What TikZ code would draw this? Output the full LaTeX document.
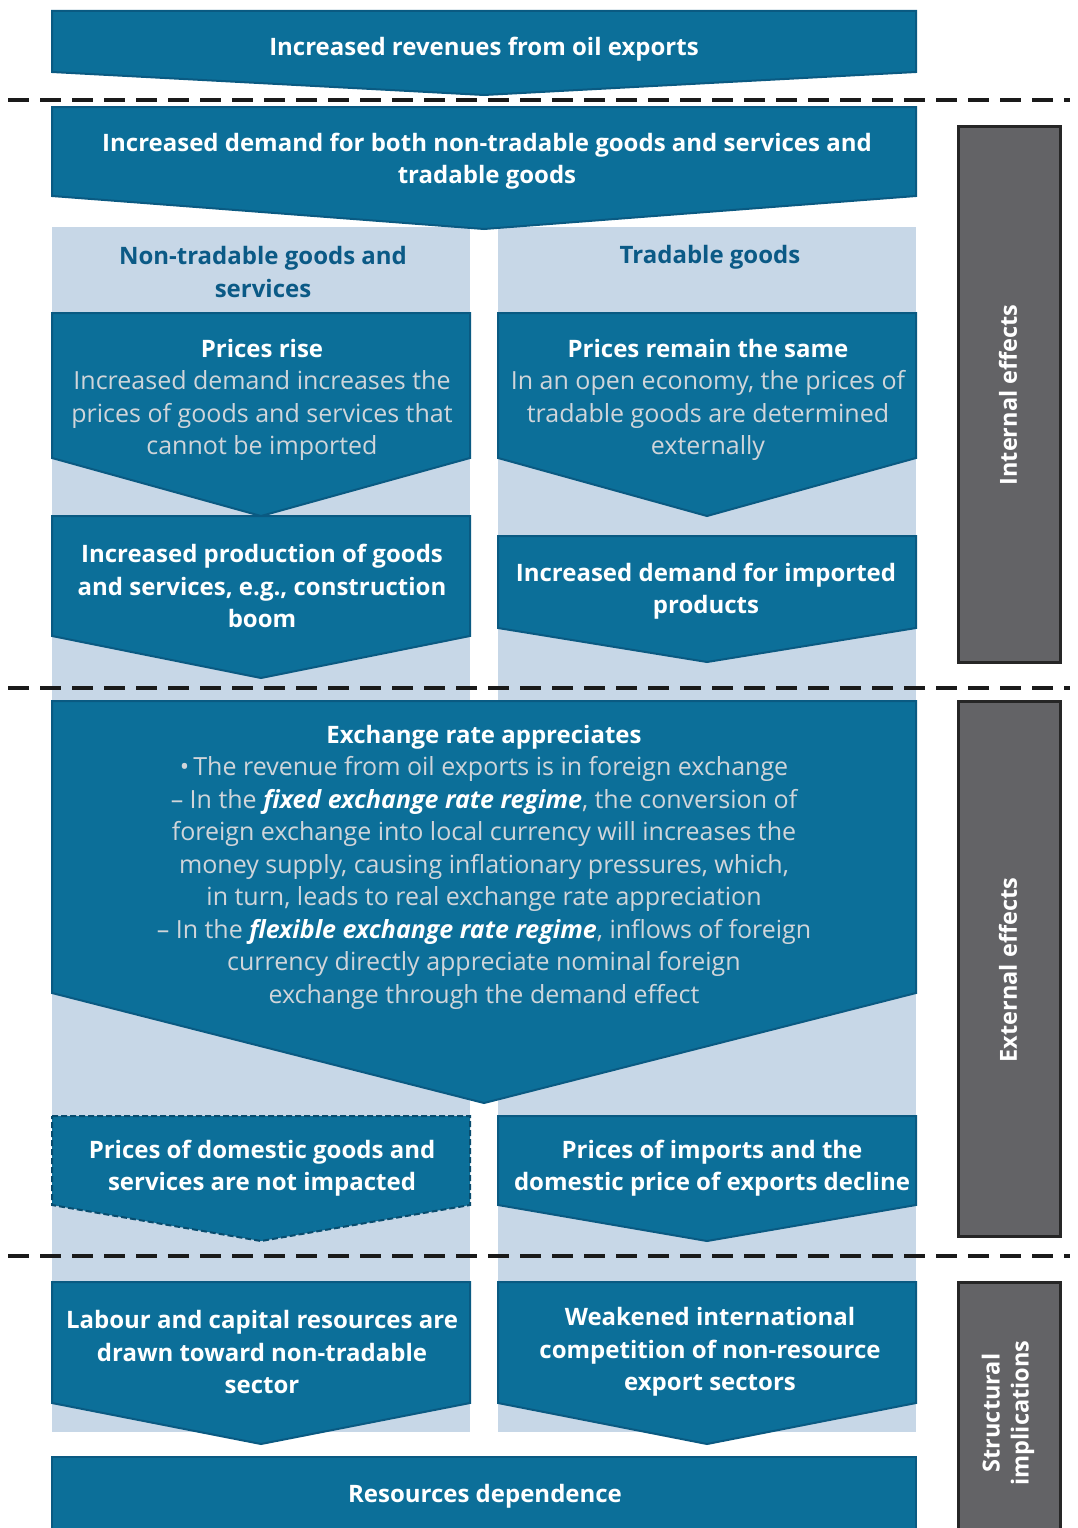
\documentclass[tikz,border=0pt]{standalone}
\usepackage{fontspec}
\setmainfont{Open Sans}
\definecolor{boxblue}{HTML}{0C6F99}
\definecolor{boxedge}{HTML}{0A5A82}
\definecolor{paleblue}{HTML}{C7D7E7}
\definecolor{bodygray}{HTML}{D0D5DA}
\definecolor{headblue}{HTML}{0B5A86}
\definecolor{sidegray}{HTML}{636366}
\definecolor{sideedge}{HTML}{262626}
\definecolor{dashblack}{HTML}{1A1A1A}
\tikzset{
  chevron/.style={fill=boxblue, draw=boxedge, line width=2pt, line join=miter},
  sepline/.style={draw=dashblack, line width=4pt, dash pattern=on 21pt off 11pt},
  lbl/.style={text=white, font=\fontsize{24}{32.5}\selectfont\bfseries, align=center, inner sep=0pt},
  body/.style={text=bodygray, font=\fontsize{25}{32.5}\selectfont, align=center, inner sep=0pt},
  head/.style={text=headblue, font=\fontsize{24}{32.5}\selectfont\bfseries, align=center, inner sep=0pt},
  sidebox/.style={fill=sidegray, draw=sideedge, line width=3pt},
  sidelbl/.style={text=white, font=\fontsize{23.5}{29}\selectfont\bfseries, align=center, inner sep=0pt, rotate=90},
}
\newcommand\chevshape[6][]{%
  \path[chevron,#1] (#2,#4) -- (#3,#4) -- (#3,#5) -- ({(#2+#3)/2},#6) -- (#2,#5) -- cycle;}
\begin{document}
\begin{tikzpicture}[x=1pt,y=-1pt]
\useasboundingbox (0,0) rectangle (1078,1528);
\clip (0,0) rectangle (1078,1528);
\fill[white] (0,0) rectangle (1078,1528);
% pale columns
\fill[paleblue] (52,227) rectangle (470,1432);
\fill[paleblue] (498,227) rectangle (916,1432);
% chevrons
\chevshape{52}{916}{11}{72}{95}
\chevshape{52}{916}{107}{196}{229}
\chevshape{52}{470}{313}{458}{516}
\chevshape{498}{916}{313}{458}{516}
\chevshape{52}{470}{516}{636}{678}
\chevshape{498}{916}{536}{628}{662}
\chevshape{52}{916}{701}{993}{1103}
\chevshape[dash pattern=on 6pt off 3pt, draw=boxedge!85!black]{52}{470}{1116}{1205}{1241}
\chevshape{498}{916}{1116}{1205}{1241}
\chevshape{52}{470}{1282}{1403}{1444}
\chevshape{498}{916}{1282}{1403}{1444}
\path[chevron] (52,1457) rectangle (916,1540);
% side boxes
\path[sidebox] (958,126) rectangle (1060,662);
\path[sidebox] (958,701) rectangle (1060,1236);
\path[sidebox] (958,1282) rectangle (1060,1540);
% separators
\coordinate (s1a) at (8,100); \coordinate (s1b) at (1070,100);
\coordinate (s2a) at (8,688); \coordinate (s2b) at (1070,688);
\coordinate (s3a) at (8,1256); \coordinate (s3b) at (1070,1256);
\draw[sepline] (s1a) -- (s1b);
\draw[sepline] (s2a) -- (s2b);
\draw[sepline] (s3a) -- (s3b);
% texts
\node[lbl] (t1) at (484,49) {Increased revenues from oil exports};
\node[lbl] (t2) at (487,161) {Increased demand for both non-tradable goods and services and\\tradable goods};
\node[head] (hdL) at (263,272) {Non-tradable goods and\\services};
\node[head] (hdR) at (710,257) {Tradable goods};
\node[body] (rise) at (262,400) {\textcolor{white}{\fontsize{24}{32.5}\selectfont\bfseries Prices rise}\\Increased demand increases the\\prices of goods and services that\\cannot be imported};
\node[body] (same) at (708,400) {\textcolor{white}{\fontsize{24}{32.5}\selectfont\bfseries Prices remain the same}\\In an open economy, the prices of\\tradable goods are determined\\externally};
\node[lbl] (prod) at (262,586) {Increased production of goods\\and services, e.g., construction\\boom};
\node[lbl] (imp) at (706,591) {Increased demand for imported\\products};
\node[body] (exch) at (484,867) {\textcolor{white}{\fontsize{24}{32.5}\selectfont\bfseries Exchange rate appreciates}\\
\textbullet\,The revenue from oil exports is in foreign exchange\\
-- In the \textcolor{white}{\bfseries\itshape fixed exchange rate regime}, the conversion of\\
foreign exchange into local currency will increases the\\
money supply, causing inflationary pressures, which,\\
in turn, leads to real exchange rate appreciation\\
-- In the \textcolor{white}{\bfseries\itshape flexible exchange rate regime}, inflows of foreign\\
currency directly appreciate nominal foreign\\
exchange through the demand effect};
\node[lbl] (dom) at (262,1168) {Prices of domestic goods and\\services are not impacted};
\node[lbl] (imports) at (712,1168) {Prices of imports and the\\domestic price of exports decline};
\node[lbl] (labour) at (262,1352) {Labour and capital resources are\\drawn toward non-tradable\\sector};
\node[lbl] (weak) at (710,1352) {Weakened international\\competition of non-resource\\export sectors};
\node[lbl] (res) at (485,1496) {Resources dependence};
\node[sidelbl] (int) at (1008,395) {Internal effects};
\node[sidelbl] (ext) at (1008,970) {External effects};
\node[sidelbl] (str) at (1008,1413) {Structural\\implications};
\end{tikzpicture}
\end{document}
